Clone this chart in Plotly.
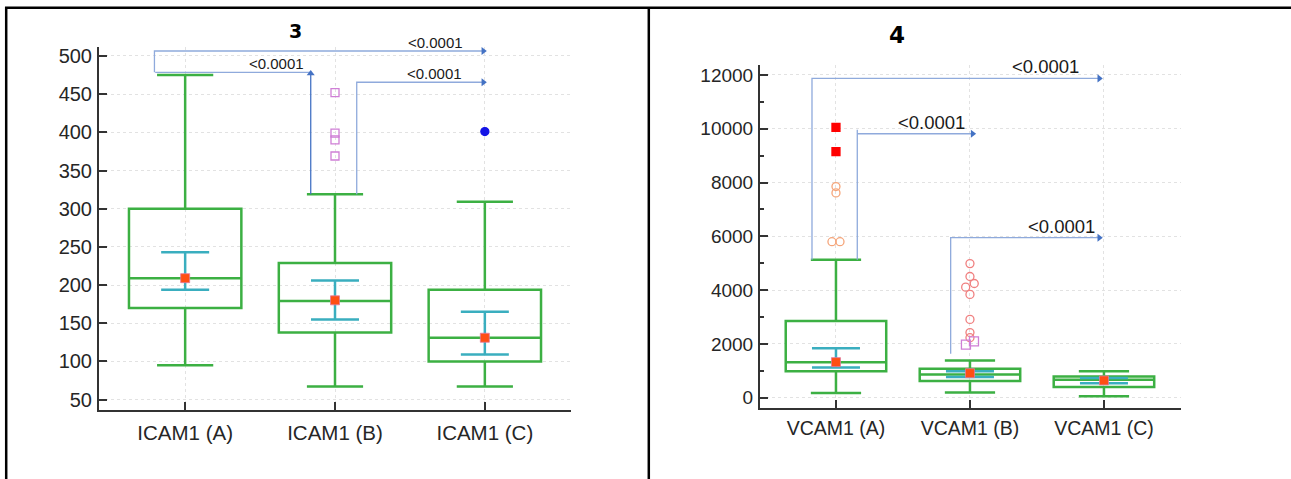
import plotly.graph_objects as go

# ---------------- data ----------------
icam_labels = ["ICAM1 (A)", "ICAM1 (B)", "ICAM1 (C)"]
icam_q1 = [170, 138, 100]
icam_median = [209, 179, 131]
icam_q3 = [300, 229, 194]
icam_lower = [95, 67, 67]
icam_upper = [475, 319, 309]
icam_mean = [209, 180, 131]
icam_ci_low = [194, 155, 109]
icam_ci_high = [243, 206, 165]
icam_out_B = [452, 399, 390, 369]
icam_farout_C = [401]

vcam_labels = ["VCAM1 (A)", "VCAM1 (B)", "VCAM1 (C)"]
vcam_q1 = [985, 615, 393]
vcam_median = [1320, 863, 667]
vcam_q3 = [2850, 1075, 790]
vcam_lower = [170, 196, 48]
vcam_upper = [5130, 1380, 985]
vcam_mean = [1320, 910, 640]
vcam_ci_low = [1120, 765, 540]
vcam_ci_high = [1840, 985, 730]
vcam_farout_A = [10050, 9150]
vcam_out_A = [7850, 7615, 5800, 5800]
vcam_out_A_jit = [0, 0, -0.03, 0.03]
vcam_out_B = [4985, 4505, 4245, 4110, 3840, 2910, 2420, 2230]
vcam_out_B_jit = [0, 0, 0.032, -0.032, 0, 0, 0, 0]
vcam_sq_B = [1975, 2095]
vcam_sq_B_jit = [-0.03, 0.03]

p_text = "<0.0001"

# ---------------- styles ----------------
GREEN = "#3cb043"
CYAN = "#3aaebf"
ORANGE = "#ff4f14"
BR_LIGHT = "#8faadc"
BR_DARK = "#4472c4"
FONT = "Liberation Sans"
W, H = 1291, 479

fig = go.Figure()


def add_panel(xa, ya, q1, med, q3, lo, up, mean, cil, cih):
    cats = [0, 1, 2]
    fig.add_trace(go.Box(
        x=cats, q1=q1, median=med, q3=q3, lowerfence=lo, upperfence=up,
        width=0.75, whiskerwidth=0.5, boxpoints=False,
        line=dict(color=GREEN, width=2.5), fillcolor="rgba(0,0,0,0)",
        xaxis=xa, yaxis=ya, hoverinfo="skip"))
    fig.add_trace(go.Scatter(
        x=cats, y=mean, mode="markers", xaxis=xa, yaxis=ya,
        marker=dict(symbol="square", size=9, color=ORANGE,
                    line=dict(color="#e07aa0", width=0.8)),
        error_y=dict(type="data", symmetric=False,
                     array=[h - m for h, m in zip(cih, mean)],
                     arrayminus=[m - l for m, l in zip(mean, cil)],
                     color=CYAN, thickness=2.5, width=24)))


def pts(xa, ya, xs, ys, symbol, color, size, filled):
    fig.add_trace(go.Scatter(
        x=xs, y=ys, mode="markers", xaxis=xa, yaxis=ya,
        marker=dict(symbol=symbol if filled else symbol + "-open", size=size,
                    color=color, line=dict(color=color, width=1.3))))


def line(xa, ya, xs, ys, color):
    fig.add_trace(go.Scatter(x=xs, y=ys, mode="lines", xaxis=xa, yaxis=ya,
                             line=dict(color=color, width=1.3), cliponaxis=False))


def arrow(xa, ya, x, y, sym):
    fig.add_trace(go.Scatter(x=[x], y=[y], mode="markers", xaxis=xa, yaxis=ya,
                             marker=dict(symbol=sym, size=7, color=BR_DARK),
                             cliponaxis=False))


# ---- panel 3 (ICAM1) ----
add_panel("x", "y", icam_q1, icam_median, icam_q3, icam_lower, icam_upper,
          icam_mean, icam_ci_low, icam_ci_high)
pts("x", "y", [1] * len(icam_out_B), icam_out_B, "square", "#cf7fd6", 8, False)
pts("x", "y", [2] * len(icam_farout_C), icam_farout_C, "circle", "#1414e6", 8, True)

# brackets (panel 3)
line("x", "y", [-0.205, -0.205, 1.99], [478.6, 506.5, 506.5], BR_LIGHT)
arrow("x", "y", 1.99, 506.5, "triangle-right")
line("x", "y", [-0.2, 0.838], [478.6, 478.6], BR_LIGHT)
line("x", "y", [0.838, 0.838], [icam_upper[1], 477], BR_DARK)
arrow("x", "y", 0.838, 477, "triangle-up")
line("x", "y", [1.145, 1.145, 1.99], [icam_upper[1], 465.6, 465.6], BR_LIGHT)
arrow("x", "y", 1.99, 465.6, "triangle-right")

# ---- panel 4 (VCAM1) ----
add_panel("x2", "y2", vcam_q1, vcam_median, vcam_q3, vcam_lower, vcam_upper,
          vcam_mean, vcam_ci_low, vcam_ci_high)
pts("x2", "y2", [0] * len(vcam_farout_A), vcam_farout_A, "square", "#ff0000", 8, True)
pts("x2", "y2", [0 + j for j in vcam_out_A_jit], vcam_out_A, "circle", "#f5a57a", 8, False)
pts("x2", "y2", [1 + j for j in vcam_out_B_jit], vcam_out_B, "circle", "#f08080", 8, False)
pts("x2", "y2", [1 + j for j in vcam_sq_B_jit], vcam_sq_B, "square", "#cf7fd6", 9, False)

line("x2", "y2", [-0.179, -0.179, 1.965], [vcam_upper[0], 11874, 11874], BR_LIGHT)
arrow("x2", "y2", 1.965, 11874, "triangle-right")
line("x2", "y2", [0.159, 0.159], [vcam_upper[0], 9960], BR_LIGHT)
line("x2", "y2", [0.159, 1.02], [9815, 9815], BR_LIGHT)
arrow("x2", "y2", 1.02, 9815, "triangle-right")
line("x2", "y2", [0.856, 0.856, 1.965], [1630, 5948, 5948], BR_LIGHT)
arrow("x2", "y2", 1.965, 5948, "triangle-right")

annots = [
    dict(x=1.673, y=506.5, xref="x", yref="y", yanchor="bottom", yshift=-2,
         text=p_text, font=dict(size=15)),
    dict(x=0.611, y=478.6, xref="x", yref="y", yanchor="bottom", yshift=-2,
         text=p_text, font=dict(size=15)),
    dict(x=1.667, y=465.6, xref="x", yref="y", yanchor="bottom", yshift=-2,
         text=p_text, font=dict(size=15)),
    dict(x=1.565, y=11874, xref="x2", yref="y2", yanchor="bottom", yshift=-1,
         text=p_text, font=dict(size=18.5)),
    dict(x=0.714, y=9815, xref="x2", yref="y2", yanchor="bottom", yshift=-1,
         text=p_text, font=dict(size=18.5)),
    dict(x=1.684, y=5948, xref="x2", yref="y2", yanchor="bottom", yshift=-1,
         text=p_text, font=dict(size=18.5)),
    dict(x=295 / W, y=1 - 29 / H, xref="paper", yref="paper", yanchor="middle",
         text="<b>3</b>", font=dict(size=19, family="DejaVu Sans", color="#000")),
    dict(x=897 / W, y=1 - 33 / H, xref="paper", yref="paper", yanchor="middle",
         text="<b>4</b>", font=dict(size=23, family="DejaVu Sans", color="#000")),
]
for a in annots:
    a.setdefault("showarrow", False)
    a["xanchor"] = "center"
    a["font"].setdefault("family", FONT)
    a["font"].setdefault("color", "#1a1a1a")

axis_common = dict(showline=True, linecolor="#333333", linewidth=2,
                   ticks="inside", ticklen=8, tickwidth=1.5, tickcolor="#333333",
                   showgrid=True, gridcolor="#e2e2e2", griddash="dot", gridwidth=1,
                   zeroline=False, mirror=False)

fig.update_layout(
    width=W, height=H, margin=dict(l=0, r=0, t=0, b=0),
    paper_bgcolor="white", plot_bgcolor="white", showlegend=False,
    font=dict(family=FONT, color="#262626"),
    xaxis=dict(domain=[99 / W, 571 / W], anchor="y", range=[-0.575, 2.575],
               tickvals=[0, 1, 2], ticktext=icam_labels,
               tickfont=dict(size=20.5), ticklabelstandoff=3, **axis_common),
    yaxis=dict(domain=[(H - 410) / H, (H - 45) / H], anchor="x", range=[36, 512],
               tickvals=list(range(50, 501, 50)), tickfont=dict(size=20),
               ticklabelstandoff=1, **axis_common),
    xaxis2=dict(domain=[760 / W, 1181 / W], anchor="y2", range=[-0.567, 2.575],
                tickvals=[0, 1, 2], ticktext=vcam_labels,
                tickfont=dict(size=19.5), ticklabelstandoff=2, **axis_common),
    yaxis2=dict(domain=[(H - 407.7) / H, (H - 63.3) / H], anchor="x2",
                range=[-385, 12370], tickvals=list(range(0, 12001, 2000)),
                tickformat="d", tickfont=dict(size=19), ticklabelstandoff=1,
                minor=dict(tickvals=list(range(1000, 12000, 2000)), ticks="inside",
                           ticklen=4, tickcolor="#333333", showgrid=False),
                **axis_common),
    annotations=annots,
    shapes=[
        dict(type="line", xref="paper", yref="paper", x0=5 / W, x1=1,
             y0=1 - 5.8 / H, y1=1 - 5.8 / H, line=dict(color="black", width=2.5)),
        dict(type="line", xref="paper", yref="paper", x0=6.2 / W, x1=6.2 / W,
             y0=0, y1=1 - 5 / H, line=dict(color="black", width=2.5)),
        dict(type="line", xref="paper", yref="paper", x0=648.8 / W, x1=648.8 / W,
             y0=0, y1=1 - 5 / H, line=dict(color="black", width=2.5)),
    ],
)

fig.write_html("out.html")
